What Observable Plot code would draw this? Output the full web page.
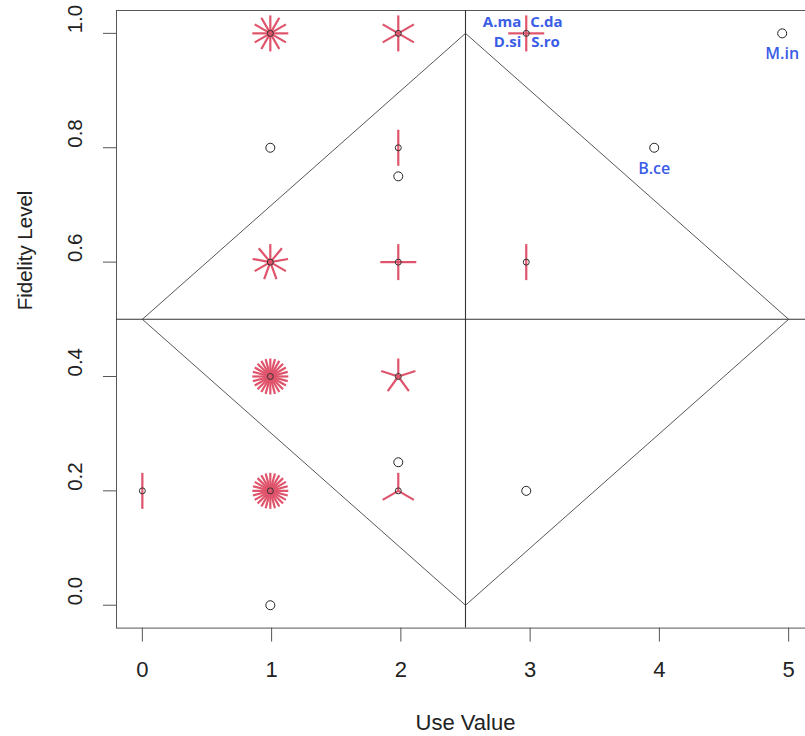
<!DOCTYPE html>
<html><head><meta charset="utf-8">
<script src="https://cdn.jsdelivr.net/npm/d3@7"></script>
<script src="https://cdn.jsdelivr.net/npm/@observablehq/plot@0.6"></script>
<style>body{margin:0;background:#fff} #chart svg{display:block}</style>
</head><body><div id="chart"></div>
<script>
// Sunflower plot data: one entry per distinct (use value, fidelity level), with the number of species there
const useValue = [0, 0.99, 0.99, 0.99, 0.99, 0.99, 0.99, 1.98, 1.98, 1.98, 1.98, 1.98, 1.98, 1.98, 2.97, 2.97, 2.97, 3.96, 4.95];
const fidelity = [0.2, 0.0, 0.2, 0.4, 0.6, 0.8, 1.0, 0.2, 0.25, 0.4, 0.6, 0.75, 0.8, 1.0, 0.2, 0.6, 1.0, 0.8, 1.0];
const count    = [2, 1, 24, 24, 9, 1, 12, 3, 1, 5, 4, 1, 2, 6, 1, 2, 4, 1, 1];

// Species labels
const labelText = ["A.ma", "C.da", "D.si", "S.ro", "B.ce", "M.in"];
const labelX    = [2.97, 2.97, 2.97, 2.97, 3.96, 4.95];
const labelY    = [1.0, 1.0, 1.0, 1.0, 0.8, 1.0];

// Diamond guide
const diamondX = [0, 2.5, 5, 2.5, 0];
const diamondY = [0.5, 1, 0.5, 0, 0.5];
const crossX = [2.5];
const crossY = [0.5];

const xTicks = [0, 1, 2, 3, 4, 5];
const yTicks = [0.0, 0.2, 0.4, 0.6, 0.8, 1.0];
const xTitle = "Use Value";
const yTitle = "Fidelity Level";

const points = useValue.map((x, i) => ({x, y: fidelity[i], n: count[i]}));
const singles = points.filter(d => d.n === 1);
const multis = points.filter(d => d.n > 1);
const petals = multis.flatMap(d => d3.range(1, d.n + 1).map(k => ({x: d.x, y: d.y, angle: 360 * k / d.n})));
const labels = labelText.map((t, i) => ({t, x: labelX[i], y: labelY[i]}));

const lineShape = {draw(ctx, l) { ctx.moveTo(0, 0); ctx.lineTo(0, -l); }};
const blue = "#3b5de6";
const font = "'Liberation Sans', Arial, sans-serif";
const lblFont = "'Open Sans', sans-serif";

const chart = Plot.plot({
  width: 805,
  height: 736,
  marginLeft: 116,
  marginRight: -9,
  marginTop: 10,
  marginBottom: 108.4,
  style: {fontFamily: font, color: "#222", background: "#fff"},
  x: {domain: [-0.2, 5.2]},
  y: {domain: [-0.04, 1.04]},
  marks: [
    Plot.frame({stroke: "#555", strokeWidth: 1}),
    Plot.line(diamondX.map((x, i) => ({x, y: diamondY[i]})), {x: "x", y: "y", stroke: "#444", strokeWidth: 0.9}),
    Plot.ruleX(crossX, {stroke: "#333", strokeWidth: 1.1}),
    Plot.ruleY(crossY, {stroke: "#333", strokeWidth: 1.1}),
    Plot.axisX({ticks: xTicks, tickSize: 14, tickFormat: () => "", label: null, stroke: "#555"}),
    Plot.axisY({ticks: yTicks, tickSize: 13, tickFormat: () => "", label: null, stroke: "#555"}),
    Plot.text(xTicks, {x: d => d, frameAnchor: "bottom", dy: 42, text: d => String(d), fontSize: 22, fill: "#222", lineAnchor: "middle"}),
    Plot.text(yTicks, {y: d => d, frameAnchor: "left", dx: -41, rotate: -90, text: d => d.toFixed(1), fontSize: 20.5, fill: "#222", lineAnchor: "middle"}),
    Plot.text([xTitle], {frameAnchor: "bottom", dy: 95, text: d => d, fontSize: 22, fill: "#222", lineAnchor: "middle"}),
    Plot.text([yTitle], {frameAnchor: "left", dx: -91, dy: -9, rotate: -90, text: d => d, fontSize: 20.5, fill: "#222", lineAnchor: "middle"}),
    Plot.vector(petals, {x: "x", y: "y", rotate: "angle", length: 18, anchor: "start", shape: lineShape, stroke: "#DF536B", strokeWidth: 2.2, strokeLinecap: "butt"}),
    Plot.dot(singles, {x: "x", y: "y", r: 4.5, stroke: "#222", strokeWidth: 1, fill: "none"}),
    Plot.dot(multis, {x: "x", y: "y", r: 3, stroke: "#333", strokeWidth: 1, fill: "none"}),
    Plot.text(labels.filter(d => d.t === "A.ma"), {x: "x", y: "y", text: "t", textAnchor: "end", dx: -5, dy: -11, fill: blue, fontSize: 15, fontWeight: 700, fontFamily: lblFont}),
    Plot.text(labels.filter(d => d.t === "C.da"), {x: "x", y: "y", text: "t", textAnchor: "start", dx: 4, dy: -11, fill: blue, fontSize: 15, fontWeight: 700, fontFamily: lblFont}),
    Plot.text(labels.filter(d => d.t === "D.si"), {x: "x", y: "y", text: "t", textAnchor: "end", dx: -5, dy: 9, fill: blue, fontSize: 15, fontWeight: 700, fontFamily: lblFont}),
    Plot.text(labels.filter(d => d.t === "S.ro"), {x: "x", y: "y", text: "t", textAnchor: "start", dx: 5, dy: 9, fill: blue, fontSize: 15, fontWeight: 700, fontFamily: lblFont}),
    Plot.text(labels.filter(d => d.t === "B.ce" || d.t === "M.in"), {x: "x", y: "y", text: "t", textAnchor: "middle", dy: 21, fill: blue, fontSize: 16, fontWeight: 600, fontFamily: lblFont})
  ]
});
document.getElementById("chart").appendChild(chart);
</script>
</body></html>
